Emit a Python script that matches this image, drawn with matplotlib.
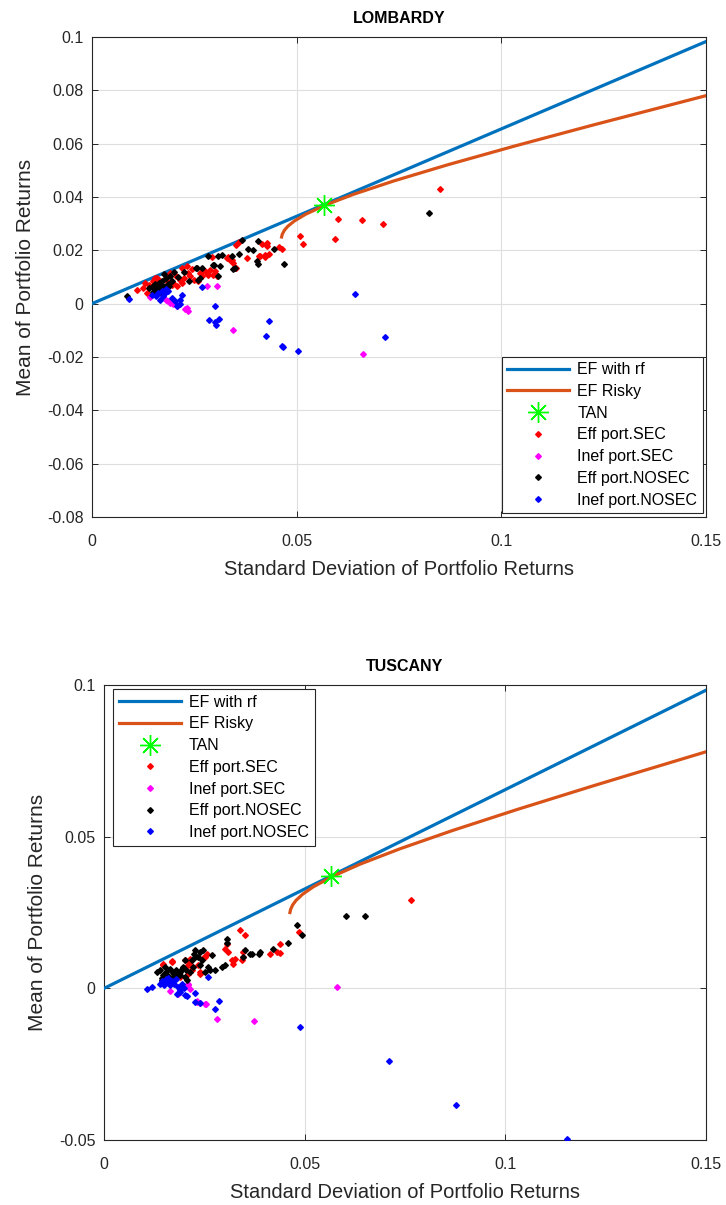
import numpy as np
import matplotlib
matplotlib.use('Agg')
import matplotlib.pyplot as plt
from matplotlib.ticker import FuncFormatter

# frontiers (same in both regions)
cml_sigma = [0.0, 0.15]
cml_mu = [0.0, 0.0983]
ef_sigma = [0.04632, 0.04648, 0.04699, 0.04783, 0.04944, 0.05216, 0.05706,
            0.06388, 0.07370, 0.08673, 0.10300, 0.12244, 0.15]
ef_mu = [0.0250, 0.0260, 0.0275, 0.0290, 0.0310, 0.0335, 0.0370,
         0.0410, 0.0460, 0.0520, 0.0590, 0.0670, 0.0780]
tan_pt = (0.0566, 0.0371)

# LOMBARDY portfolios (sigma, mean)
lom_eff_sec = [(0.0850, 0.0430), (0.0602, 0.0319), (0.0660, 0.0314), (0.0712, 0.0297),
               (0.0508, 0.0255), (0.0594, 0.0244), (0.0515, 0.0222), (0.0415, 0.0224),
               (0.0428, 0.0218), (0.0409, 0.0177), (0.0422, 0.0175), (0.0432, 0.0186),
               (0.0458, 0.0213), (0.0463, 0.0206), (0.0353, 0.0221), (0.0359, 0.0230),
               (0.0378, 0.0171), (0.0329, 0.0171), (0.0337, 0.0165), (0.0345, 0.0153),
               (0.0353, 0.0134), (0.0292, 0.0175), (0.0272, 0.0121), (0.0280, 0.0115),
               (0.0296, 0.0109), (0.0239, 0.0102), (0.0248, 0.0090), (0.0215, 0.0090),
               (0.0219, 0.0078), (0.0199, 0.0078), (0.0207, 0.0065), (0.0182, 0.0102),
               (0.0191, 0.0115), (0.0129, 0.0078), (0.0134, 0.0040), (0.0125, 0.0059),
               (0.0109, 0.0053), (0.0154, 0.0096), (0.0166, 0.0084), (0.0231, 0.0140),
               (0.0219, 0.0134), (0.0174, 0.0053), (0.0182, 0.0065), (0.0260, 0.0084),
               (0.0427, 0.0228), (0.0333, 0.0175), (0.0341, 0.0165), (0.0410, 0.0180),
               (0.0423, 0.0184), (0.0276, 0.0121), (0.0288, 0.0125), (0.0300, 0.0121),
               (0.0284, 0.0109), (0.0305, 0.0102), (0.0264, 0.0115), (0.0268, 0.0102),
               (0.0140, 0.0070), (0.0150, 0.0085), (0.0160, 0.0095), (0.0170, 0.0060),
               (0.0185, 0.0080), (0.0195, 0.0070), (0.0205, 0.0105), (0.0225, 0.0095),
               (0.0235, 0.0115), (0.0245, 0.0130)]
lom_inef_sec = [(0.0280, 0.0068), (0.0305, 0.0068), (0.0191, 0.0003), (0.0199, 0.0000),
                (0.0231, -0.0016), (0.0235, -0.0029), (0.0345, -0.0100), (0.0142, 0.0024),
                (0.0186, 0.0010), (0.0663, -0.0190), (0.0207, -0.0010), (0.0227, -0.0022),
                (0.0182, 0.0015)]
lom_eff_nosec = [(0.0823, 0.0340), (0.0405, 0.0234), (0.0393, 0.0203), (0.0445, 0.0206),
                 (0.0470, 0.0149), (0.0402, 0.0159), (0.0406, 0.0149), (0.0366, 0.0237),
                 (0.0283, 0.0180), (0.0309, 0.0180), (0.0298, 0.0146), (0.0344, 0.0131),
                 (0.0254, 0.0132), (0.0309, 0.0102), (0.0238, 0.0084), (0.0085, 0.0027),
                 (0.0382, 0.0206), (0.0360, 0.0188), (0.0341, 0.0177), (0.0349, 0.0134),
                 (0.0317, 0.0184), (0.0296, 0.0146), (0.0313, 0.0140), (0.0268, 0.0134),
                 (0.0256, 0.0134), (0.0264, 0.0096), (0.0260, 0.0090),
                 (0.0150, 0.0065), (0.0155, 0.0072), (0.0160, 0.0060), (0.0163, 0.0078),
                 (0.0168, 0.0055), (0.0170, 0.0070), (0.0172, 0.0085), (0.0178, 0.0062),
                 (0.0180, 0.0095), (0.0185, 0.0075), (0.0158, 0.0050), (0.0165, 0.0045),
                 (0.0190, 0.0105), (0.0195, 0.0085), (0.0200, 0.0120), (0.0210, 0.0100),
                 (0.0225, 0.0120), (0.0175, 0.0110), (0.0140, 0.0060), (0.0148, 0.0045),
                 (0.0152, 0.0058), (0.0162, 0.0066), (0.0176, 0.0052), (0.0188, 0.0068)]
lom_inef_nosec = [(0.0090, 0.0018), (0.0146, 0.0034), (0.0162, 0.0040), (0.0170, 0.0046),
                  (0.0178, 0.0040), (0.0186, 0.0046), (0.0174, 0.0027), (0.0219, 0.0034),
                  (0.0215, 0.0015), (0.0195, 0.0021), (0.0203, 0.0009), (0.0166, 0.0012),
                  (0.0208, -0.0010), (0.0215, 0.0000), (0.0301, -0.0010), (0.0287, -0.0063),
                  (0.0300, -0.0070), (0.0311, -0.0056), (0.0303, -0.0080), (0.0432, -0.0064),
                  (0.0425, -0.0123), (0.0463, -0.0158), (0.0467, -0.0164), (0.0503, -0.0179),
                  (0.0643, 0.0038), (0.0715, -0.0126), (0.0268, 0.0063), (0.0156, 0.0030),
                  (0.0180, 0.0055)]

# TUSCANY portfolios (sigma, mean)
tus_eff_sec = [(0.0765, 0.0293), (0.0486, 0.0186), (0.0439, 0.0145), (0.0430, 0.0120),
               (0.0439, 0.0118), (0.0414, 0.0114), (0.0347, 0.0120), (0.0343, 0.0092),
               (0.0347, 0.0103), (0.0339, 0.0191), (0.0351, 0.0175), (0.0306, 0.0147),
               (0.0302, 0.0131), (0.0310, 0.0120), (0.0318, 0.0092), (0.0322, 0.0082),
               (0.0256, 0.0114), (0.0252, 0.0103), (0.0235, 0.0076), (0.0239, 0.0048),
               (0.0214, 0.0087), (0.0218, 0.0070), (0.0210, 0.0048), (0.0169, 0.0087),
               (0.0148, 0.0076), (0.0177, 0.0048), (0.0189, 0.0037), (0.0327, 0.0098),
               (0.0148, 0.0079), (0.0169, 0.0090), (0.0202, 0.0092), (0.0210, 0.0076),
               (0.0214, 0.0098), (0.0218, 0.0060), (0.0239, 0.0054), (0.0248, 0.0104)]
tus_inef_sec = [(0.0210, 0.0016), (0.0185, -0.0017), (0.0164, -0.0007), (0.0231, -0.0045),
                (0.0239, -0.0048), (0.0254, -0.0050), (0.0281, -0.0100), (0.0374, -0.0106),
                (0.0581, 0.0005), (0.0210, 0.0010), (0.0214, -0.0003), (0.0231, -0.0040),
                (0.0252, -0.0053)]
tus_eff_nosec = [(0.0602, 0.0239), (0.0651, 0.0239), (0.0480, 0.0208), (0.0493, 0.0177),
                 (0.0459, 0.0151), (0.0422, 0.0131), (0.0385, 0.0114), (0.0389, 0.0120),
                 (0.0364, 0.0114), (0.0307, 0.0164), (0.0302, 0.0076), (0.0293, 0.0070),
                 (0.0277, 0.0059), (0.0268, 0.0109), (0.0247, 0.0125), (0.0239, 0.0120),
                 (0.0260, 0.0070), (0.0264, 0.0059), (0.0223, 0.0114), (0.0227, 0.0103),
                 (0.0218, 0.0092), (0.0202, 0.0092), (0.0198, 0.0070), (0.0351, 0.0125),
                 (0.0347, 0.0103), (0.0368, 0.0114), (0.0306, 0.0151), (0.0227, 0.0128),
                 (0.0131, 0.0054), (0.0140, 0.0060), (0.0148, 0.0045), (0.0155, 0.0055),
                 (0.0160, 0.0040), (0.0165, 0.0065), (0.0172, 0.0050), (0.0180, 0.0060),
                 (0.0185, 0.0045), (0.0190, 0.0055), (0.0152, 0.0070), (0.0145, 0.0035),
                 (0.0170, 0.0035), (0.0195, 0.0065), (0.0205, 0.0060), (0.0144, 0.0026),
                 (0.0152, 0.0021), (0.0164, 0.0032), (0.0177, 0.0037), (0.0189, 0.0043),
                 (0.0202, 0.0037), (0.0206, 0.0026), (0.0214, 0.0054), (0.0222, 0.0071),
                 (0.0235, 0.0103), (0.0239, 0.0076), (0.0252, 0.0054), (0.0243, 0.0092)]
tus_inef_nosec = [(0.0106, -0.0001), (0.0119, 0.0004), (0.0140, 0.0015), (0.0145, 0.0025),
                  (0.0150, 0.0010), (0.0155, 0.0030), (0.0160, 0.0020), (0.0165, 0.0010),
                  (0.0170, 0.0025), (0.0175, 0.0015), (0.0180, 0.0030), (0.0185, 0.0005),
                  (0.0190, -0.0005), (0.0195, 0.0015), (0.0200, 0.0000), (0.0160, 0.0035),
                  (0.0227, -0.0016), (0.0206, -0.0026), (0.0260, 0.0037), (0.0287, -0.0040),
                  (0.0277, -0.0067), (0.0488, -0.0128), (0.0227, -0.0045), (0.0239, -0.0048),
                  (0.0181, -0.0017), (0.0189, -0.0012), (0.0202, -0.0023), (0.0710, -0.0241),
                  (0.0876, -0.0383), (0.1153, -0.0497)]

x_ticks = [0, 0.05, 0.1, 0.15]
lom_yticks = [-0.08, -0.06, -0.04, -0.02, 0, 0.02, 0.04, 0.06, 0.08, 0.1]
tus_yticks = [-0.05, 0, 0.05, 0.1]

plt.rcParams['font.family'] = ['Liberation Sans', 'DejaVu Sans']
plt.rcParams['axes.unicode_minus'] = False

fig = plt.figure(figsize=(7.26, 12.05), dpi=100)
ax1 = fig.add_axes([0.1267, 0.571, 0.8458, 0.3983])
ax2 = fig.add_axes([0.1433, 0.0539, 0.8292, 0.3776])

fmt = FuncFormatter(lambda v, p: '0' if abs(v) < 1e-12 else ('%g' % v))


def draw(ax, title, eff_sec, inef_sec, eff_nosec, inef_nosec, yticks, ylim, legloc, anchor):
    ax.plot(cml_sigma, cml_mu, color='#0072BD', lw=2.3, label='EF with rf', zorder=3)
    ax.plot(ef_sigma, ef_mu, color='#D95319', lw=2.3, label='EF Risky', zorder=3)
    ax.plot([tan_pt[0]], [tan_pt[1]], color='#00FF00', ms=15, mew=1.0,
            ls='none', label='TAN', zorder=5, marker=(8, 2, 0))
    groups = [(eff_sec, 'red', 'Eff port.SEC'), (inef_sec, 'magenta', 'Inef port.SEC'),
              (eff_nosec, 'black', 'Eff port.NOSEC'), (inef_nosec, 'blue', 'Inef port.NOSEC')]
    for pts, c, lab in groups:
        xs = [p[0] for p in pts]
        ys = [p[1] for p in pts]
        ax.plot(xs, ys, 'D', color=c, ms=2.9, ls='none', label=lab, zorder=4)
    ax.set_xlim(0, 0.15)
    ax.set_ylim(*ylim)
    ax.set_xticks(x_ticks)
    ax.set_yticks(yticks)
    ax.xaxis.set_major_formatter(fmt)
    ax.yaxis.set_major_formatter(fmt)
    ax.grid(True, color='#dedede', lw=0.8)
    ax.set_axisbelow(True)
    ax.tick_params(direction='in', length=4, width=0.7, colors='#262626',
                   labelsize=11.5, top=True, right=True, labeltop=False, labelright=False)
    ax.tick_params(axis='x', pad=12)
    ax.tick_params(axis='y', pad=6)
    for s in ax.spines.values():
        s.set_color('#262626')
        s.set_linewidth(0.8)
    ax.set_title(title, fontsize=11.5, fontweight='bold', pad=10)
    ax.set_xlabel('Standard Deviation of Portfolio Returns', fontsize=14.5,
                  color='#262626', labelpad=8)
    ax.set_ylabel('Mean of Portfolio Returns', fontsize=15, color='#262626', labelpad=9)
    leg = ax.legend(loc=legloc, bbox_to_anchor=anchor, fontsize=11.5, fancybox=False,
                    framealpha=1, edgecolor='#262626', borderaxespad=0, handlelength=3.9,
                    labelspacing=0.42, borderpad=0.35, handletextpad=0.5)
    leg.get_frame().set_linewidth(0.8)


draw(ax1, 'LOMBARDY', lom_eff_sec, lom_inef_sec, lom_eff_nosec, lom_inef_nosec,
     lom_yticks, (-0.08, 0.1), 'lower right', (0.995, 0.008))
draw(ax2, 'TUSCANY', tus_eff_sec, tus_inef_sec, tus_eff_nosec, tus_inef_nosec,
     tus_yticks, (-0.05, 0.1), 'upper left', (0.015, 0.991))

fig.savefig('out.png', dpi=100)
